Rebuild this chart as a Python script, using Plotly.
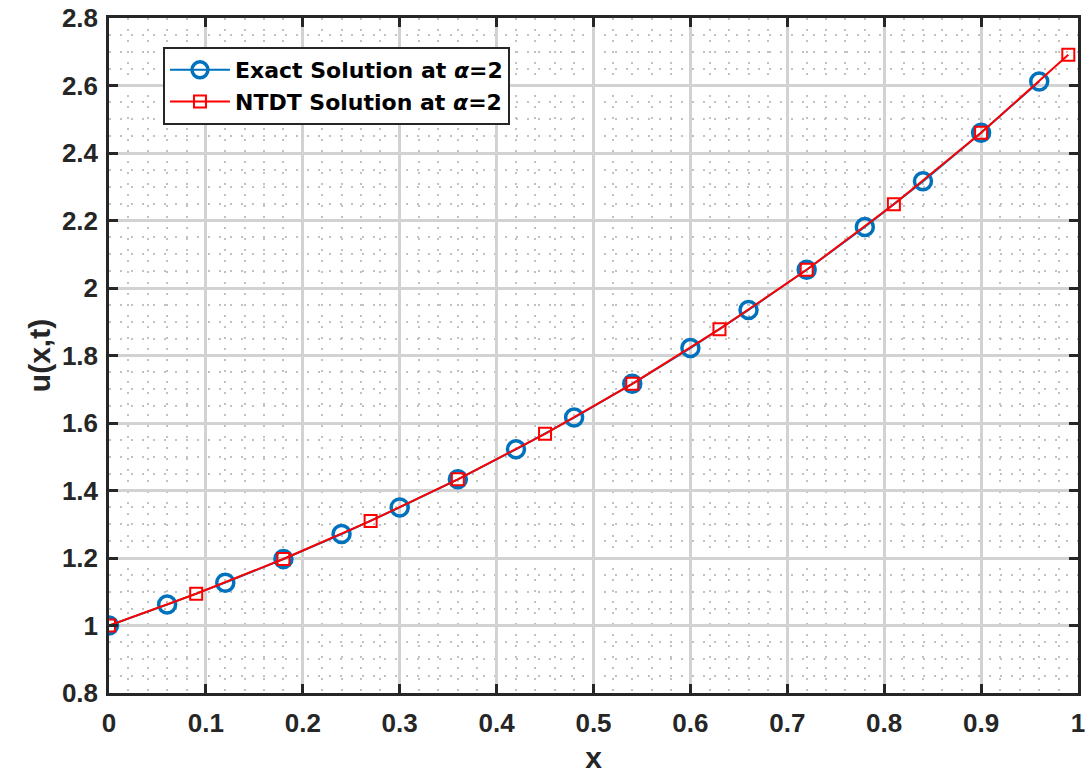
import plotly.graph_objects as go

x_exact = [0.0, 0.06, 0.12, 0.18, 0.24, 0.30, 0.36, 0.42, 0.48, 0.54, 0.60, 0.66, 0.72, 0.78, 0.84, 0.90, 0.96]
u_exact = [1.000, 1.062, 1.127, 1.197, 1.271, 1.350, 1.433, 1.522, 1.616, 1.716, 1.822, 1.935, 2.054, 2.181, 2.316, 2.460, 2.612]

x_ntdt = [0.0, 0.09, 0.18, 0.27, 0.36, 0.45, 0.54, 0.63, 0.72, 0.81, 0.90, 0.99]
u_ntdt = [1.000, 1.094, 1.197, 1.310, 1.433, 1.568, 1.716, 1.878, 2.054, 2.248, 2.460, 2.691]

x_ticks = [0, 0.1, 0.2, 0.3, 0.4, 0.5, 0.6, 0.7, 0.8, 0.9, 1]
x_labels = ["0", "0.1", "0.2", "0.3", "0.4", "0.5", "0.6", "0.7", "0.8", "0.9", "1"]
y_ticks = [0.8, 1.0, 1.2, 1.4, 1.6, 1.8, 2.0, 2.2, 2.4, 2.6, 2.8]
y_labels = ["0.8", "1", "1.2", "1.4", "1.6", "1.8", "2", "2.2", "2.4", "2.6", "2.8"]

FONT = "Liberation Sans, Arial, sans-serif"
LEGEND_FONT = "DejaVu Sans, Liberation Sans, sans-serif"
INK = "#262626"

fig = go.Figure()
fig.add_trace(go.Scatter(
    x=x_exact, y=u_exact, mode="lines+markers",
    name="<b>Exact Solution at <i>α</i>=2</b>",
    line=dict(color="#0072BD", width=2),
    marker=dict(symbol="circle-open", size=17, color="#0072BD", line=dict(width=3.5, color="#0072BD")),
))
fig.add_trace(go.Scatter(
    x=x_ntdt, y=u_ntdt, mode="lines+markers",
    name="<b>NTDT Solution at <i>α</i>=2</b>",
    line=dict(color="#FF0000", width=2),
    marker=dict(symbol="square-open", size=12, color="#FF0000", line=dict(width=2, color="#FF0000")),
))

axis_common = dict(
    showline=True, linecolor=INK, linewidth=2.5, mirror="ticks",
    ticks="inside", ticklen=9, tickwidth=2.5, tickcolor=INK,
    showgrid=True, gridcolor="#d2d2d2", gridwidth=2.5,
    zeroline=False, automargin=False, ticklabeloverflow="allow",
    tickfont=dict(family=FONT, size=26, color=INK, weight="bold"),
)

fig.update_xaxes(
    **axis_common, range=[0, 1], tickvals=x_ticks, ticktext=x_labels,
    ticklabelstandoff=5,
    minor=dict(dtick=0.02, tick0=0, showgrid=True, gridcolor="#c2c2c2", griddash="2px,9px", gridwidth=1.5),
    title=dict(text="<b>x</b>", font=dict(family=FONT, size=30, color=INK), standoff=13),
)
fig.update_yaxes(
    **axis_common, range=[0.8, 2.8], tickvals=y_ticks, ticktext=y_labels,
    ticklabelstandoff=3,
    minor=dict(dtick=0.05, tick0=0.8, showgrid=True, gridcolor="#c2c2c2", griddash="2px,9px", gridwidth=1.5),
    title=dict(text="<b>u(x,t)</b>", font=dict(family=FONT, size=30, color=INK), standoff=3),
)

fig.update_layout(
    width=1091, height=774,
    margin=dict(l=109, r=13, t=18, b=81, autoexpand=False),
    plot_bgcolor="white", paper_bgcolor="white",
    font=dict(family=FONT),
    legend=dict(
        x=0.0557, y=0.957, xanchor="left", yanchor="top",
        bgcolor="white", bordercolor=INK, borderwidth=2,
        font=dict(family=LEGEND_FONT, size=22, color="black"),
        itemwidth=60, tracegroupgap=0,
    ),
    showlegend=True,
)

# remove the default 8px page margin so the figure fills the window exactly
fig.write_html("out.html", config={"displayModeBar": False},
               post_script="document.body.style.margin='0';")
